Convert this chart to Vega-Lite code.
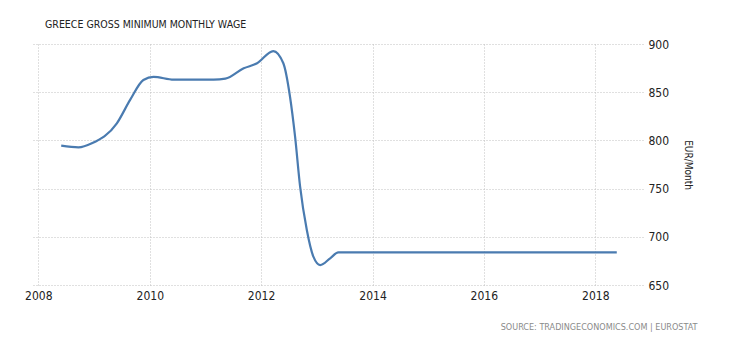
{
  "$schema": "https://vega.github.io/schema/vega-lite/v6.json",
  "autosize": "none",
  "width": 610,
  "height": 241,
  "padding": {"left": 33, "top": 44, "right": 87, "bottom": 55},
  "background": "white",
  "title": {
    "text": "GREECE GROSS MINIMUM MONTHLY WAGE",
    "anchor": "start",
    "frame": "group",
    "dx": 12,
    "offset": 0,
    "baseline": "alphabetic",
    "font": "DejaVu Sans Condensed, Liberation Sans",
    "fontSize": 10.5,
    "fontWeight": "normal",
    "color": "#222222"
  },
  "data": {
    "values": [
      {"date": "2008-05-30", "wage": 794.5},
      {"date": "2008-09-20", "wage": 792.8},
      {"date": "2008-12-17", "wage": 797},
      {"date": "2009-05-30", "wage": 817.7},
      {"date": "2009-08-25", "wage": 842},
      {"date": "2009-11-20", "wage": 862.7},
      {"date": "2010-01-26", "wage": 866},
      {"date": "2010-06-07", "wage": 863},
      {"date": "2011-02-24", "wage": 863},
      {"date": "2011-05-12", "wage": 864},
      {"date": "2011-09-09", "wage": 874.8},
      {"date": "2011-12-06", "wage": 880},
      {"date": "2012-03-21", "wage": 892.7},
      {"date": "2012-05-26", "wage": 880},
      {"date": "2012-07-09", "wage": 845},
      {"date": "2012-08-11", "wage": 803.8},
      {"date": "2012-09-13", "wage": 752},
      {"date": "2012-10-27", "wage": 707},
      {"date": "2012-12-09", "wage": 679.4},
      {"date": "2013-01-23", "wage": 670.7},
      {"date": "2013-03-29", "wage": 677.7},
      {"date": "2013-05-22", "wage": 683.76},
      {"date": "2014-01-01", "wage": 683.76},
      {"date": "2015-01-01", "wage": 683.76},
      {"date": "2016-01-01", "wage": 683.76},
      {"date": "2017-01-01", "wage": 683.76},
      {"date": "2018-01-01", "wage": 683.76},
      {"date": "2018-05-22", "wage": 683.76}
    ]
  },
  "mark": {"type": "line", "interpolate": "monotone", "color": "#4a7bb0", "strokeWidth": 2.2},
  "encoding": {
    "x": {
      "field": "date",
      "type": "temporal",
      "scale": {"domain": [{"year": 2007, "month": 11, "date": 27}, {"year": 2018, "month": 11, "date": 10}]},
      "axis": {
        "title": "SOURCE: TRADINGECONOMICS.COM | EUROSTAT",
        "titleAnchor": "end",
        "titleAlign": "right",
        "titleBaseline": "alphabetic",
        "titleX": 664,
        "titleY": 44,
        "titleFont": "DejaVu Sans Condensed, Liberation Sans",
        "titleFontSize": 9,
        "titleFontWeight": "normal",
        "titleColor": "#8a8a8a",
        "values": [
          {"year": 2008, "month": 1, "date": 1},
          {"year": 2010, "month": 1, "date": 1},
          {"year": 2012, "month": 1, "date": 1},
          {"year": 2014, "month": 1, "date": 1},
          {"year": 2016, "month": 1, "date": 1},
          {"year": 2018, "month": 1, "date": 1}
        ],
        "format": "%Y",
        "labelFont": "DejaVu Sans Condensed, Liberation Sans",
        "labelFontSize": 12,
        "labelColor": "#222222",
        "labelPadding": 5,
        "ticks": false,
        "domain": false,
        "grid": true,
        "gridColor": "#c0c0c0",
        "gridDash": [1, 2],
        "labelFlush": false
      }
    },
    "y": {
      "field": "wage",
      "type": "quantitative",
      "scale": {"domain": [650, 900], "nice": false, "zero": false},
      "axis": {
        "orient": "right",
        "title": "EUR/Month",
        "titleAngle": 90,
        "titleAnchor": "middle",
        "titleFont": "DejaVu Sans Condensed, Liberation Sans",
        "titleFontSize": 10,
        "titleFontWeight": "normal",
        "titleColor": "#222222",
        "titlePadding": 14,
        "values": [650, 700, 750, 800, 850, 900],
        "labelFont": "DejaVu Sans Condensed, Liberation Sans",
        "labelFontSize": 12,
        "labelColor": "#222222",
        "labelPadding": 5,
        "ticks": false,
        "domain": false,
        "grid": true,
        "gridColor": "#c0c0c0",
        "gridDash": [1, 2]
      }
    }
  },
  "config": {"view": {"stroke": null}}
}
